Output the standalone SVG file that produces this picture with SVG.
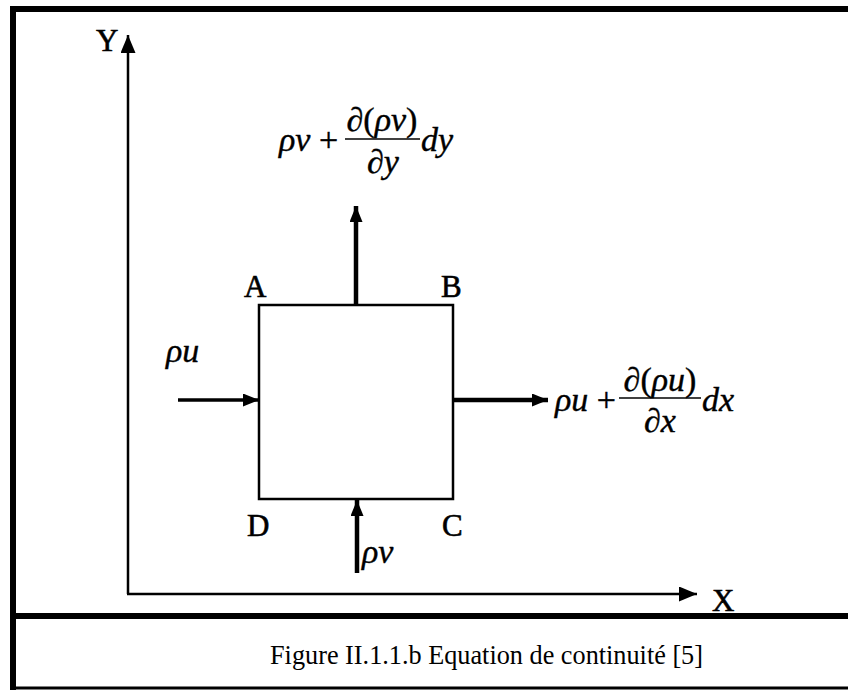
<svg xmlns="http://www.w3.org/2000/svg" width="848" height="691" viewBox="0 0 848 691">
<defs>
<style>
.ln{stroke:#000;fill:none}
</style>
<marker id="ah" markerUnits="userSpaceOnUse" markerWidth="18" markerHeight="15" refX="18" refY="7.5" orient="auto">
<path d="M0,0 L18,7.5 L0,15 z" fill="#000"/>
</marker>
<marker id="ahs" markerUnits="userSpaceOnUse" markerWidth="16" markerHeight="13" refX="16" refY="6.5" orient="auto">
<path d="M0,0 L16,6.5 L0,13 z" fill="#000"/>
</marker>
</defs>
<rect width="848" height="691" fill="#fff"/>
<g id="frame">
<line class="ln" x1="13" y1="6" x2="13" y2="690" stroke-width="6"/>
<line class="ln" x1="10" y1="9" x2="848" y2="9" stroke-width="6"/>
<line class="ln" x1="10" y1="616" x2="848" y2="616" stroke-width="6"/>
<line class="ln" x1="10" y1="688" x2="848" y2="688" stroke-width="3"/>
</g>
<g id="axes" font-family="Liberation Serif" font-size="31" stroke="#000" stroke-width="0.6">
<line class="ln" x1="128" y1="594" x2="128" y2="35" stroke-width="2.5" marker-end="url(#ah)"/>
<line class="ln" x1="127" y1="594" x2="697" y2="594" stroke-width="2.5" marker-end="url(#ah)"/>
<text x="96" y="51">Y</text>
<text x="712" y="611">X</text>
</g>
<g id="element" font-family="Liberation Serif" font-size="31" stroke="#000" stroke-width="0.6">
<rect class="ln" x="259" y="305" width="194" height="194" stroke-width="2.5"/>
<text x="244" y="297">A</text>
<text x="441" y="297">B</text>
<text x="247" y="536">D</text>
<text x="442" y="536">C</text>
</g>
<g id="connectors">
<line class="ln" x1="178" y1="400" x2="259" y2="400" stroke-width="3.5" marker-end="url(#ahs)"/>
<line class="ln" x1="453" y1="400" x2="548" y2="400" stroke-width="4.5" marker-end="url(#ahs)"/>
<line class="ln" x1="356" y1="305" x2="356" y2="206" stroke-width="4.5" marker-end="url(#ahs)"/>
<line class="ln" x1="357" y1="573" x2="357" y2="500" stroke-width="4.5" marker-end="url(#ahs)"/>
</g>
<g id="label-in-x" font-family="Liberation Serif" font-size="34" font-style="italic" stroke="#000" stroke-width="0.4">
<text x="166" y="362">ρu</text>
</g>
<g id="label-in-y" font-family="Liberation Serif" font-size="34" font-style="italic" stroke="#000" stroke-width="0.4">
<text x="362" y="563">ρv</text>
</g>
<g id="label-out-y" font-family="Liberation Serif" font-size="34" stroke="#000" stroke-width="0.4">
<text x="279" y="151"><tspan font-style="italic">ρv</tspan> +</text>
<text x="382" y="131" text-anchor="middle">∂(<tspan font-style="italic">ρv</tspan>)</text>
<line class="ln" x1="345" y1="139" x2="420" y2="139" stroke-width="1.5"/>
<text x="383" y="173" text-anchor="middle">∂<tspan font-style="italic">y</tspan></text>
<text x="421" y="151" font-style="italic">dy</text>
</g>
<g id="label-out-x" font-family="Liberation Serif" font-size="34" stroke="#000" stroke-width="0.4">
<text x="555" y="411"><tspan font-style="italic">ρu</tspan> +</text>
<text x="660" y="391" text-anchor="middle">∂(<tspan font-style="italic">ρu</tspan>)</text>
<line class="ln" x1="619" y1="398" x2="701" y2="398" stroke-width="1.5"/>
<text x="660" y="432" text-anchor="middle">∂<tspan font-style="italic">x</tspan></text>
<text x="702" y="411" font-style="italic">dx</text>
</g>
<g id="caption" font-family="Liberation Serif" font-size="27">
<text x="270" y="664" textLength="433" lengthAdjust="spacingAndGlyphs">Figure II.1.1.b  Equation de continuité [5]</text>
</g>
</svg>
